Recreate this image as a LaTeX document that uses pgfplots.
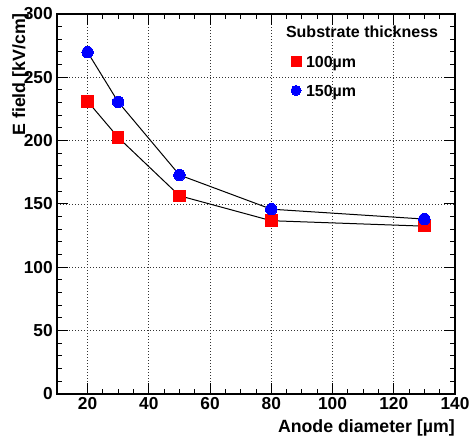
\documentclass[border=0pt]{standalone}
\usepackage{pgfplots}
\pgfplotsset{compat=1.18}
\usepackage{fontspec}
\setmainfont{Liberation Sans}
\definecolor{rred}{RGB}{255,0,0}
\definecolor{rblue}{RGB}{0,0,255}
\pgfplotsset{markonly legend/.style={legend image code/.code={\path[##1, mark size=3.75pt] plot coordinates {(3.75pt,1.5pt)};}}}
\begin{document}
\begin{tikzpicture}
\useasboundingbox (0,0) rectangle (354.75pt,330.75pt);
\begin{axis}[
  at={(42.75pt,35.25pt)}, anchor=south west,
  scale only axis, width=298.5pt, height=285pt,
  xmin=10, xmax=140, ymin=0, ymax=300,
  xtick={20,40,...,140}, ytick={0,50,...,300},
  minor x tick num=3, minor y tick num=4,
  tick align=inside, xtick pos=both, ytick pos=both,
  major tick length=8pt, minor tick length=4pt,
  every tick/.style={black, line width=0.75pt},
  axis line style={line width=1.5pt},
  grid=major,
  major grid style={black!80, line width=0.6pt, dash pattern=on 0.75pt off 1.5pt},
  /pgf/number format/assume math mode=true,
  tick label style={font=\fontsize{13}{15}\selectfont\bfseries},
  xticklabel style={inner sep=0pt, yshift=-2.5pt},
  yticklabel style={inner sep=0pt, xshift=-3pt},
  xlabel={Anode diameter [µm]},
  ylabel={E field [kV/cm]},
  label style={font=\fontsize{13.3}{15}\selectfont\bfseries},
  xlabel style={at={(axis description cs:1,-0.066)}, anchor=north east, inner sep=0pt},
  ylabel style={at={(axis description cs:-0.0804,1.0026)}, anchor=base east, inner sep=0pt},
  markonly legend,
  legend cell align=left,
  legend style={draw=none, fill=none, at={(axis description cs:0.588,0.969)}, anchor=north west,
    inner sep=0pt, outer sep=0pt, row sep=10pt, column sep=3.75pt,
    font=\fontsize{12}{14}\selectfont\bfseries,
    nodes={inner sep=0pt, text height=9pt, text depth=3pt}},
]
\addlegendimage{empty legend}
\addlegendentry{\hspace*{-15pt}Substrate thickness}
\addplot[black, line width=0.75pt, mark=square*, mark size=4.3pt,
  mark options={draw=rred, fill=rred, line width=0pt}]
  coordinates {(20,231) (30,202.5) (50,156.5) (80,136.8) (130,132.5)};
\addlegendentry{100µm}
\addplot[black, line width=0.75pt, mark=*, mark size=4.3pt,
  mark options={draw=rblue, fill=rblue, line width=0pt}]
  coordinates {(20,269.8) (30,230.5) (50,172.9) (80,145.9) (130,138.1)};
\addlegendentry{150µm}
\end{axis}
\end{tikzpicture}
\end{document}
